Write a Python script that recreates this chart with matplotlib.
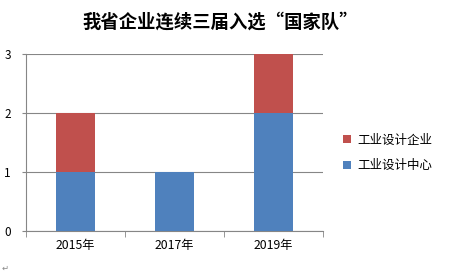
import numpy as np
import matplotlib.pyplot as plt

plt.rcParams['font.family'] = ['Noto Sans CJK SC', 'DejaVu Sans']

years = ['2015年', '2017年', '2019年']
center = [1, 1, 2]      # 工业设计中心
company = [1, 0, 1]     # 工业设计企业
yticks = [0, 1, 2, 3]

blue = '#4F81BD'
red = '#C0504D'
grey = '#868686'

fig = plt.figure(figsize=(4.68, 2.8), dpi=100)
ax = fig.add_axes([26 / 468, 1 - 231 / 280, 297 / 468, 177 / 280])

x = np.arange(len(years))
ax.bar(x, center, width=0.4, color=blue, label='工业设计中心', zorder=3)
ax.bar(x, company, width=0.4, bottom=center, color=red, label='工业设计企业', zorder=3)

ax.set_xlim(-0.5, 2.5)
ax.set_ylim(0, 3)
ax.set_yticks(yticks)
ax.set_yticklabels([str(v) for v in yticks], fontsize=8.5)
ax.yaxis.grid(True, color=grey, linewidth=0.8, zorder=0)

ax.set_xticks(x)
ax.set_xticklabels(years, fontsize=8.8)
ax.tick_params(axis='x', length=0, pad=6)
ax.set_xticks([-0.5, 0.5, 1.5, 2.5], minor=True)
ax.tick_params(axis='x', which='minor', length=4, color=grey, direction='out')
ax.tick_params(axis='y', length=3, color=grey, pad=8)

for s in ['top', 'right']:
    ax.spines[s].set_visible(False)
for s in ['left', 'bottom']:
    ax.spines[s].set_color(grey)
    ax.spines[s].set_linewidth(0.8)

fig.text(220 / 468, 1 - 22 / 280, '我省企业连续三届入选“国家队”',
         ha='center', va='center', fontsize=13.2, fontweight='bold')

handles, labels = ax.get_legend_handles_labels()
ax.legend(handles[::-1], labels[::-1], loc='center left',
          bbox_to_anchor=(1.03, 0.44), frameon=False, fontsize=9,
          handlelength=0.6, handleheight=0.6, handletextpad=0.5,
          labelspacing=1.0)

fig.text(2 / 468, 1 - 268 / 280, '↵', fontsize=6, color='#888888',
         ha='left', va='center')

fig.savefig('out.png', dpi=100)
